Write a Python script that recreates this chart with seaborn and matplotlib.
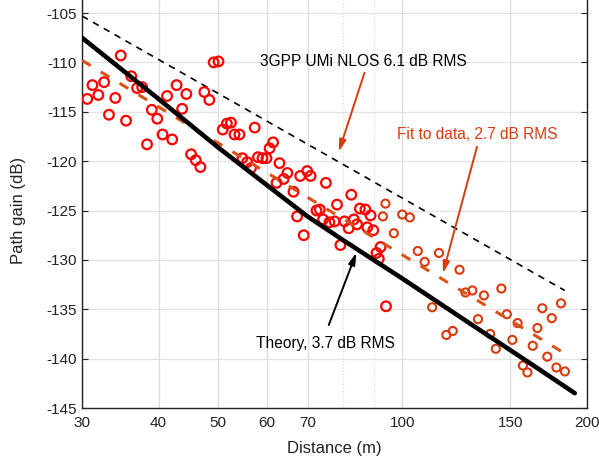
import matplotlib
matplotlib.use("Agg")
import matplotlib.pyplot as plt
import numpy as np
import pandas as pd
import seaborn as sns

# ---------------- data ----------------
dist_red = [30.6, 31.2, 31.9, 32.6, 33.2, 34.0, 34.7, 35.4, 36.1, 36.9, 37.6, 38.3,
            39.0, 39.8, 40.6, 41.3, 42.1, 42.8, 43.7, 44.4, 45.2, 46.0, 46.8, 47.5,
            48.4, 49.2, 50.1, 50.9, 51.7, 52.5, 53.2, 54.2, 54.8, 55.8, 56.6, 57.4,
            58.1, 59.1, 60.0, 60.7, 61.5, 63.0, 62.3, 64.0, 64.9, 66.4, 67.3, 68.1,
            69.9, 70.8, 69.0, 72.4, 73.3, 75.0, 74.2, 76.0, 77.5, 78.2, 79.2, 80.4,
            81.7, 83.3, 84.3, 82.5, 85.2, 87.0, 88.7, 87.6, 89.6, 90.7, 91.5, 92.1,
            94.0]
gain_red = [-113.7, -112.3, -113.3, -112.0, -115.3, -113.6, -109.3, -115.9, -111.4, -112.6, -112.5, -118.3,
            -114.8, -115.7, -117.3, -113.4, -117.8, -112.3, -114.7, -113.2, -119.3, -119.9, -120.6, -113.0,
            -113.8, -110.0, -109.9, -116.8, -116.2, -116.1, -117.3, -117.3, -119.7, -120.1, -120.7, -116.6,
            -119.6, -119.7, -119.7, -118.7, -118.1, -120.2, -122.2, -121.8, -121.2, -123.1, -125.6, -121.5,
            -121.0, -121.5, -127.5, -125.0, -124.9, -122.2, -125.9, -126.2, -126.1, -124.4, -128.5, -126.1,
            -126.8, -125.9, -126.4, -123.4, -124.8, -124.9, -125.5, -126.7, -127.0, -129.3, -129.9, -128.7,
            -134.7]

dist_orange = [92.9, 93.8, 96.8, 99.9, 102.8, 105.9, 108.7, 111.8, 114.7, 117.9, 120.8,
               123.9, 126.7, 130.0, 132.8, 135.8, 139.0, 142.0, 145.0, 148.0, 154.1, 151.1,
               157.2, 159.9, 163.1, 166.0, 169.1, 172.3, 175.2, 178.3, 181.4, 184.1]
gain_orange = [-125.6, -124.3, -127.3, -125.4, -125.7, -129.1, -130.2, -134.8, -129.3, -137.6, -137.2,
               -131.0, -133.3, -133.1, -136.0, -133.6, -137.5, -139.0, -132.9, -135.5, -136.4, -138.1,
               -140.7, -141.4, -138.7, -136.9, -134.9, -139.8, -135.9, -140.9, -134.4, -141.3]

theory_dist = [30, 40, 50, 60, 70, 80, 100, 130, 160, 191]
theory_gain = [-107.5, -113.7, -118.6, -122.4, -125.6, -128.0, -131.9, -136.6, -140.3, -143.5]

gpp_dist = [30, 184]
gpp_gain = [-105.3, -133.1]

fit_dist = [30, 182]
fit_gain = [-109.8, -139.3]

x_ticks = [30, 40, 50, 60, 70, 100, 150, 200]
x_tick_labels = ["30", "40", "50", "60", "70", "100", "150", "200"]
x_minor_ticks = [80, 90]
y_ticks = [-145, -140, -135, -130, -125, -120, -115, -110, -105]

label_3gpp = "3GPP UMi NLOS 6.1 dB RMS"
label_fit = "Fit to data, 2.7 dB RMS"
label_theory = "Theory, 3.7 dB RMS"

# ---------------- style ----------------
sns.set_theme(style="white")
plt.rcParams["font.family"] = ["Liberation Sans", "DejaVu Sans"]
plt.rcParams["font.size"] = 10

RED = "#FF0000"
ORANGE = "#DA3A0E"
FIT = "#D95319"
ARROW_RED = "#D83B10"

fig = plt.figure(figsize=(5.99, 4.65), dpi=100)
ax = fig.add_axes([82 / 599, 1 - 408 / 465, 505 / 599, 408 / 465])
ax.set_xscale("log")

df_red = pd.DataFrame({"d": dist_red, "g": gain_red})
df_or = pd.DataFrame({"d": dist_orange, "g": gain_orange})
df_th = pd.DataFrame({"d": theory_dist, "g": theory_gain})
df_gpp = pd.DataFrame({"d": gpp_dist, "g": gpp_gain})
df_fit = pd.DataFrame({"d": fit_dist, "g": fit_gain})

# grid
for v in y_ticks:
    ax.axhline(v, color="#E3E3E3", lw=0.9, zorder=0)
for v in x_ticks + x_minor_ticks:
    ls = ":" if v in x_minor_ticks else "-"
    ax.axvline(v, color="#DCDCDC", lw=0.9, ls=ls, zorder=0)

sns.lineplot(data=df_gpp, x="d", y="g", ax=ax, color="black", lw=1.2, zorder=3)
ax.lines[-1].set_dashes((4.0, 3.5))
sns.scatterplot(data=df_red, x="d", y="g", ax=ax, marker="o", s=48,
                facecolors="none", edgecolor=RED, linewidth=1.6, zorder=4)
sns.scatterplot(data=df_or, x="d", y="g", ax=ax, marker="o", s=34,
                facecolors="none", edgecolor=ORANGE, linewidth=1.5, zorder=4)
sns.lineplot(data=df_fit, x="d", y="g", ax=ax, color=FIT, lw=2.2, zorder=5)
ax.lines[-1].set_dashes((3.3, 3.9))
sns.lineplot(data=df_th, x="d", y="g", ax=ax, color="black", lw=3.3, zorder=6)

ax.set_xlim(30, 200)
ax.set_ylim(-145, -103.68)

ax.set_xticks(x_ticks)
ax.set_xticklabels(x_tick_labels)
ax.set_xticks(x_minor_ticks, minor=True)
ax.set_xticklabels([], minor=True)
ax.set_yticks(y_ticks)
ax.set_yticklabels([str(v) for v in y_ticks])

ax.tick_params(axis="both", which="both", direction="in", colors="#222222",
               labelcolor="#222222", labelsize=11, width=0.8)
ax.tick_params(axis="x", which="major", length=4, pad=6, top=False)
ax.tick_params(axis="x", which="minor", length=3, top=False)
ax.tick_params(axis="y", which="major", length=4, pad=4, left=True, right=True)

for side in ["left", "bottom", "right"]:
    ax.spines[side].set_visible(True)
    ax.spines[side].set_color("#222222")
    ax.spines[side].set_linewidth(1.0)
ax.spines["top"].set_visible(False)

ax.set_xlabel("Distance (m)", fontsize=12, color="#222222")
ax.set_ylabel("Path gain (dB)", fontsize=12, color="#222222")
ax.xaxis.set_label_coords(0.5, -0.08)
ax.yaxis.set_label_coords(-0.11, 0.485)

# annotations
ax.text(86.3, -109.86, label_3gpp, ha="center", va="center", fontsize=11.2, color="black")
ax.annotate("", xy=(78.7, -119.05), xytext=(86.7, -111.05),
            arrowprops=dict(arrowstyle="-|>,head_length=0.7,head_width=0.2",
                            color=ARROW_RED, lw=1.4, shrinkA=0, shrinkB=0))
ax.text(132.5, -117.35, label_fit, ha="center", va="center", fontsize=11.2, color=ARROW_RED)
ax.annotate("", xy=(116.4, -131.36), xytext=(132.3, -118.54),
            arrowprops=dict(arrowstyle="-|>,head_length=0.7,head_width=0.2",
                            color=ARROW_RED, lw=1.4, shrinkA=0, shrinkB=0))
ax.text(75.0, -138.45, label_theory, ha="center", va="center", fontsize=11.2, color="black")
ax.annotate("", xy=(84.1, -129.27), xytext=(75.8, -136.6),
            arrowprops=dict(arrowstyle="-|>,head_length=0.7,head_width=0.2",
                            color="black", lw=1.4, shrinkA=0, shrinkB=0))

fig.savefig("out.png", dpi=100)
